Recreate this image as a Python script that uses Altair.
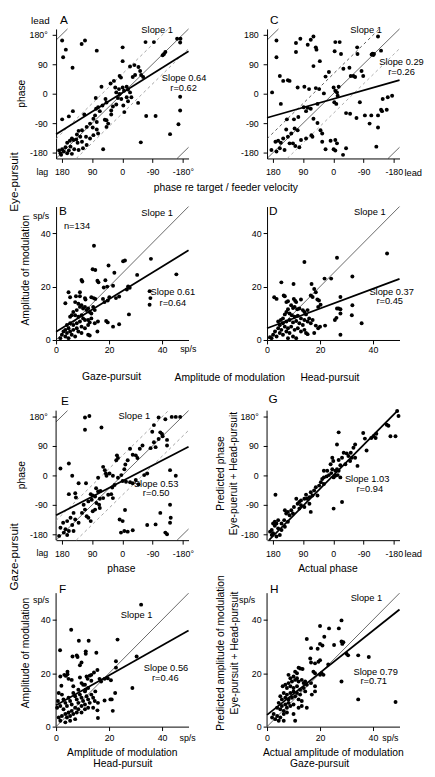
import altair as alt
import pandas as pd

FONT = "Liberation Sans"

# ---------------------------------------------------------------------------
# Data (each point = one cell; positions estimated by eye)
# Phase panels: x = phase re target / feeder velocity (deg, axis runs 180 -> -180)
# ---------------------------------------------------------------------------
A_pts = [(179,162),(168,134),(176,111),(121,151),(111,162),(76,131),(-1,141),(-69,157),(-94,157),(-163,167),
         (-173,167),(-172,156),(-120,117),(-124,121),(-128,127),(-1,99),(148,79),(-23,83),(-36,87),(-48,81),
         (-53,69),(-56,57),(-38,57),(-31,51),(-62,51),(8,54),(4,49),(25,39),(35,31),(21,19),
         (10,14),(-1,19),(-13,21),(-17,13),(-5,9),(-23,4),(62,21),(79,-13),(50,-16),(47,-27),
         (13,-13),(3,-16),(-13,-11),(-27,-11),(-17,-23),(-47,-28),(-3,-36),(-6,-56),(18,-33),(28,-39),
         (33,-51),(59,-36),(72,-41),(78,-46),(67,-53),(81,-66),(86,-76),(113,-63),(147,-53),(159,-69),
         (179,-78),(-172,-9),(-172,-51),(-167,-93),(-142,-123),(-71,-68),(-99,-68),(-55,-148),(57,-169),(47,-81),
         (52,-79),(42,-91),(76,-86),(96,-91),(88,-103),(76,-109),(72,-121),(106,-101),(120,-111),(130,-113),
         (135,-124),(125,-131),(108,-131),(150,-136),(145,-141),(137,-139),(156,-143),(164,-149),(133,-149),(120,-146),
         (106,-156),(154,-161),(169,-163),(179,-169),(143,-169),(159,-173),(174,-176),(184,-181),(188,-173),(164,-181),
         (150,-183),(130,-171),(117,-166),(182,-186),(96,-136),(47,-101),(86,-126),(33,-63),(8,-1),(18,4)]

C_pts = [(169,162),(169,111),(111,154),(98,167),(111,127),(76,149),(67,164),(59,174),(52,141),(50,134),
         (59,84),(40,99),(-6,157),(-19,157),(-4,129),(-23,121),(13,66),(23,52),(-71,141),(-72,121),
         (-133,174),(-114,119),(-117,122),(-119,118),(-121,121),(-142,131),(-84,69),(-89,54),(-52,54),(-48,79),
         (-30,76),(-60,54),(-65,51),(159,54),(149,39),(135,41),(130,39),(182,4),(106,19),(86,21),
         (72,14),(52,17),(42,14),(28,1),(47,-31),(-1,19),(-6,9),(-11,4),(-13,-6),(-16,21),
         (-3,-26),(-9,-31),(156,-31),(88,-41),(76,-43),(81,-53),(67,-46),(138,-78),(117,-78),(104,-71),
         (59,-76),(47,-89),(-50,-61),(-79,-26),(-38,-59),(-175,-6),(-162,-11),(-147,-16),(-142,-49),(-145,-53),
         (-159,-49),(-113,-66),(-94,-66),(-133,-66),(-108,-91),(-133,-103),(-69,-74),(140,-109),(115,-106),(106,-111),
         (125,-121),(135,-131),(149,-136),(164,-143),(156,-149),(172,-146),(184,-171),(169,-176),(159,-166),(145,-171),
         (130,-151),(120,-151),(113,-159),(101,-163),(96,-141),(81,-136),(38,-111),(33,-121),(65,-126),(62,-131),
         (8,-143),(-6,-141),(-11,-151),(33,-146),(23,-169),(-1,-169),(-6,-173),(-29,-186),(-38,-166),(-128,-161)]

E_pts = [(111,176),(98,181),(111,139),(62,146),(-108,176),(-128,171),(-147,178),(-159,178),(-172,178),(-94,153),
         (-89,133),(-113,131),(-118,126),(-120,119),(-108,111),(-133,108),(-133,91),(-94,101),(-99,86),(-84,83),
         (-60,91),(-52,81),(-23,81),(-31,63),(-40,61),(-45,53),(-16,46),(-9,33),(-6,19),(16,61),
         (13,53),(18,46),(57,26),(52,16),(49,6),(47,-1),(38,6),(28,-1),(72,-7),(13,-7),
         (3,1),(-1,-17),(-11,-19),(-23,-21),(-31,-24),(23,-29),(30,-37),(-40,-14),(-48,-27),(-65,1),
         (-74,6),(-142,16),(-159,-1),(184,21),(159,36),(149,-1),(130,-24),(108,-24),(159,-57),(140,-54),
         (138,-67),(78,-39),(72,-49),(65,-47),(94,-57),(88,-61),(81,-64),(91,-74),(101,-79),(67,-71),
         (57,-69),(42,-59),(33,-57),(28,-69),(77,-84),(69,-89),(67,-99),(81,-104),(88,-109),(115,-89),
         (111,-104),(120,-114),(106,-124),(101,-129),(94,-139),(145,-114),(154,-129),(164,-139),(140,-134),(130,-144),
         (176,-144),(184,-159),(169,-164),(159,-169),(149,-151),(174,-174),(164,-181),(188,-184),(145,-169),(8,-134),
         (-1,-139),(-6,-169),(4,-174),(-16,-171),(-31,-167),(-74,-151),(-99,-149),(-113,-114),(-142,-89),(-142,-144),
         (-133,-179),(-128,-174),(-144,-129),(-8,-105)]

G_pts = [(-190,196),(-194,181),(-159,154),(-164,151),(-170,119),(-185,119),(-128,127),(-120,119),(-113,114),(-126,114),
         (-89,129),(-94,112),(-99,76),(-65,94),(-60,84),(-52,69),(-40,67),(-45,59),(-55,54),(-65,54),
         (-72,29),(-31,69),(-26,54),(-16,47),(-21,31),(-11,19),(-6,14),(-16,14),(-21,-6),(-16,131),
         (-11,94),(3,54),(0,44),(8,34),(3,19),(6,7),(13,1),(20,-3),(28,-6),(33,-11),
         (37,-21),(18,14),(28,14),(-6,-1),(-13,1),(-1,-6),(-1,-101),(-26,-81),(57,-46),(52,-36),
         (62,-61),(67,-51),(71,-66),(81,-59),(78,-71),(71,-86),(67,-111),(86,-96),(96,-91),(47,-61),
         (110,-71),(117,-96),(125,-106),(106,-86),(101,-101),(144,-106),(140,-116),(130,-121),(146,-136),(154,-146),
         (135,-111),(120,-116),(172,-59),(164,-136),(174,-141),(179,-146),(169,-146),(183,-166),(179,-176),(169,-186),
         (159,-181),(188,-171),(174,-153),(164,-161),(154,-166),(144,-156),(183,-181),(135,-141),(-50,44),(-36,34),
         (28,-26),(42,-31),(86,-71),(96,-76),(101,-81)]

# Amplitude panels (sp/s)
B_pts = [(14.3,35.3),(13.8,26.5),(14.8,26.2),(19.8,27.9),(22.0,25.2),(25.3,29.5),(26.0,29.8),(35.8,30.4),(45.4,24.6),(30.6,24.4),
         (15.6,22.2),(16.0,21.6),(9.6,22.5),(9.9,21.9),(18.6,22.4),(19.3,20.0),(18.0,19.7),(21.5,20.3),(27.2,20.1),(27.8,19.6),
         (26.7,18.9),(35.3,18.3),(35.6,15.7),(35.3,13.2),(3.5,13.8),(4.7,17.9),(5.3,16.0),(7.5,16.4),(9.0,16.4),(13.3,16.0),
         (14.2,15.7),(14.8,15.4),(17.7,15.4),(18.3,14.2),(19.5,14.8),(20.1,16.0),(22.6,15.7),(23.8,16.3),(10.9,15.7),(11.1,15.2),
         (27.5,9.6),(23.8,5.9),(21.5,5.0),(18.9,7.1),(19.5,6.6),(15.8,6.9),(14.6,6.3),(12.1,7.5),(12.7,6.6),(15.6,3.2),
         (12.1,2.0),(12.7,1.7),(7.2,14.2),(8.4,13.6),(9.0,12.4),(9.6,13.0),(10.2,11.8),(10.9,12.4),(11.5,11.2),(12.1,11.8),
         (12.7,10.5),(13.3,9.9),(14.0,12.4),(14.6,11.2),(7.8,11.2),(6.5,10.5),(5.9,9.3),(5.3,8.7),(7.2,9.3),(8.4,8.7),
         (9.6,9.3),(10.2,8.1),(10.9,7.5),(9.0,6.9),(7.8,6.3),(6.5,5.6),(5.3,6.3),(4.1,5.6),(4.7,4.4),(3.5,3.8),
         (2.8,3.2),(4.1,2.6),(5.3,3.2),(6.5,3.8),(7.8,4.4),(8.4,3.2),(9.6,5.0),(2.2,2.0),(3.5,1.3),(1.6,0.7),
         (4.7,0.7),(5.9,2.0),(7.2,1.3),(9.6,2.6),(10.9,4.4),(12.1,5.6),(13.3,8.1),(9.0,17.9)]

D_pts = [(45.3,32.4),(26.4,30.8),(14.1,29.2),(32.2,23.8),(21.7,23.0),(24.2,23.0),(5.4,21.6),(10.0,21.0),(16.8,21.0),(17.8,19.1),
         (18.4,17.9),(6.3,16.7),(6.7,16.4),(10.1,15.4),(10.6,14.7),(11.0,14.2),(12.8,15.2),(7.3,14.2),(7.9,14.5),(16.5,16.7),
         (17.2,16.1),(19.0,15.2),(19.6,14.8),(20.2,13.2),(19.3,12.4),(27.7,16.1),(27.0,11.8),(27.7,11.5),(26.4,11.8),(32.2,13.0),
         (32.0,9.3),(35.7,6.3),(27.7,9.9),(26.2,8.3),(25.6,7.5),(27.7,2.0),(20.0,5.0),(19.3,4.4),(18.4,5.4),(21.9,5.4),
         (17.8,2.6),(14.7,2.6),(15.3,2.2),(2.7,16.0),(3.6,15.4),(9.1,13.0),(9.8,12.0),(10.4,12.4),(11.4,11.5),(12.2,11.8),
         (13.5,11.2),(14.1,10.5),(14.7,9.6),(15.3,11.2),(7.9,11.5),(7.3,10.5),(6.7,9.6),(8.5,9.9),(9.4,9.3),(10.4,8.7),
         (11.6,9.1),(12.8,8.1),(14.1,7.5),(15.3,6.9),(15.9,8.1),(6.0,8.1),(5.2,7.5),(4.2,6.9),(4.8,5.6),(6.0,6.3),
         (7.3,6.9),(8.5,7.5),(9.8,6.6),(11.0,7.1),(12.2,6.3),(13.5,5.6),(9.1,5.0),(7.9,4.4),(6.7,5.0),(5.4,3.8),
         (4.2,4.4),(3.0,3.2),(2.3,2.0),(1.7,0.7),(3.6,1.3),(4.8,2.6),(6.0,2.0),(7.3,3.2),(8.5,2.6),(10.4,3.8),
         (11.6,4.4),(12.8,3.2),(9.8,1.3),(11.0,0.7),(7.9,0.7),(1.1,1.0),(14.1,3.8),(16.5,6.3),(17.2,7.5)]

F_pts = [(32.1,45.7),(5.7,36.3),(1.5,28.6),(8.6,32.2),(12.3,32.2),(23.2,32.6),(30.4,26.3),(6.2,26.3),(7.8,26.7),(8.1,26.1),
         (11.2,28.2),(11.2,27.3),(9.6,24.0),(9.0,23.0),(15.2,27.7),(22.6,24.5),(22.6,22.1),(15.6,21.2),(14.3,20.3),(3.1,19.4),
         (3.7,19.0),(4.7,17.9),(1.6,18.8),(4.3,20.6),(4.3,19.6),(2.0,15.3),(5.9,17.5),(9.0,18.4),(9.6,16.3),(12.7,19.1),
         (13.3,19.4),(11.5,18.8),(11.9,17.9),(16.4,17.9),(17.0,16.9),(18.3,17.9),(19.5,18.1),(20.7,17.4),(10.9,15.7),(11.1,13.8),
         (13.3,17.2),(14.8,13.2),(22.3,12.6),(18.3,9.8),(20.5,10.2),(15.8,8.9),(15.6,6.1),(15.8,3.2),(14.0,7.1),(21.4,5.9),
         (21.0,10.2),(28.8,14.5),(2.2,12.0),(2.8,10.2),(3.5,8.9),(4.1,7.7),(4.7,10.8),(5.3,9.6),(5.9,8.3),(6.5,12.6),
         (7.2,11.4),(7.8,10.2),(8.4,8.9),(9.0,12.0),(9.6,10.8),(10.2,9.6),(10.9,8.3),(11.5,11.4),(12.1,10.2),(12.7,8.9),
         (13.3,12.0),(14.0,10.8),(14.6,9.6),(7.2,7.1),(8.4,6.5),(9.6,7.7),(5.9,5.9),(4.7,5.3),(3.5,4.7),(2.2,4.0),
         (1.0,3.4),(0.4,7.1),(1.6,7.7),(2.8,6.5),(4.1,3.4),(5.3,4.0),(6.5,4.7),(7.8,5.3),(9.6,5.3),(10.9,6.5),
         (12.1,7.1),(1.6,2.2),(3.5,1.6),(5.3,2.2),(7.2,2.8),(0.7,9.6),(1.0,12.6),(10.9,13.2),(12.1,14.5),(8.4,13.8),
         (6.5,15.1),(10.2,15.7)]

H_pts = [(28.1,39.8),(20.0,37.7),(27.1,36.8),(23.4,36.8),(15.0,32.8),(21.6,33.7),(28.1,31.9),(28.8,31.6),(28.4,31.0),(25.3,30.6),
         (20.0,31.0),(20.9,30.4),(30.0,27.3),(30.6,26.7),(34.4,26.7),(38.4,26.1),(19.1,29.2),(20.0,24.9),(19.4,24.3),(16.6,29.4),
         (16.3,25.5),(16.6,24.0),(23.1,23.3),(18.1,23.7),(20.6,20.0),(21.3,19.4),(20.0,19.4),(28.1,16.9),(34.4,10.2),(48.5,9.2),
         (11.9,22.1),(12.5,21.8),(13.4,21.6),(10.6,20.6),(11.3,20.0),(17.5,20.6),(18.1,20.0),(15.0,15.7),(16.6,16.3),(18.1,15.1),
         (18.1,13.2),(16.9,12.0),(15.0,7.1),(10.6,2.2),(4.4,2.2),(3.1,2.8),(8.1,19.4),(8.8,18.1),(10.0,18.8),(10.6,17.5),
         (11.3,18.1),(11.9,16.9),(13.1,17.5),(13.8,16.3),(14.4,16.9),(9.4,16.9),(8.1,16.3),(6.9,15.7),(5.9,15.1),(7.5,14.5),
         (8.8,15.1),(10.0,14.5),(11.3,15.1),(12.5,13.8),(13.8,14.5),(14.4,13.2),(12.5,12.0),(11.3,12.6),(10.0,13.2),(8.8,12.6),
         (7.5,12.0),(6.3,12.6),(5.0,11.4),(5.6,10.2),(6.9,10.8),(8.1,10.2),(9.4,10.8),(10.6,11.4),(11.9,10.2),(13.1,9.6),
         (8.1,8.9),(6.9,8.3),(5.6,7.7),(4.4,8.9),(3.8,7.1),(5.0,6.5),(6.3,5.9),(7.5,7.1),(8.8,7.7),(10.0,8.3),
         (2.5,4.7),(3.8,4.0),(5.0,3.4),(1.9,3.4),(6.3,4.7),(7.5,5.3),(6.3,2.2),(10.0,4.7),(11.9,7.1),(13.1,7.7)]

# Regression lines as drawn: (slope, intercept). Phase x axes run 180 -> -180,
# so a drawn phase line is y = intercept - slope * x.
FIT = {"A": (0.64, 3.0), "C": (0.29, -16.0), "E": (0.53, -17.0), "G": (1.03, 0.0),
       "B": (0.61, 3.1), "D": (0.37, 4.4), "F": (0.56, 8.0), "H": (0.79, 4.4)}

PHASE_TICKS = [180, 90, 0, -90, -180]
AMP_TICKS = [0, 20, 40]
PHASE_LIM = 197      # axis extent, deg
AMP_LIM = 50         # axis extent, sp/s
BAND = 60            # dashed band either side of the slope-1 line, deg
WRAPS = [0, 360, -360]

# layout (px)
PW, PH, AH = 135, 132, 136
EXT3, EXT4 = 23, 5   # blank space added above rows 3 and 4 (grid rows share one spacing)
TICK_FS = 9

ONE = pd.DataFrame({"k": [0]})


def clip_seg(m, b, lo_x, hi_x, lo_y, hi_y):
    cand = []
    for xv in (lo_x, hi_x):
        yv = b + m * xv
        if lo_y - 1e-9 <= yv <= hi_y + 1e-9:
            cand.append((xv, yv))
    if m != 0:
        for yv in (lo_y, hi_y):
            xv = (yv - b) / m
            if lo_x - 1e-9 <= xv <= hi_x + 1e-9:
                cand.append((xv, yv))
    cand = sorted(set((round(p, 6), round(q, 6)) for p, q in cand))
    if len(cand) < 2:
        return None
    return (cand[0], cand[-1])


def axis(values, expr, pad, domain=True):
    return alt.Axis(values=values, labelExpr=expr, tickSize=4, labelPadding=pad,
                    labelFont=FONT, labelFontSize=TICK_FS, labelColor="black",
                    tickColor="black", tickWidth=1, domain=domain,
                    domainColor="black", domainWidth=1, grid=False, title=None,
                    labelFlush=False, labelOverlap=False)


def line_layer(segs, xs, ys, xa, ya, color, width, dash=None):
    rows = []
    for i, sg in enumerate(segs):
        if sg is None:
            continue
        for (px, py) in sg:
            rows.append({"x": px, "y": py, "s": i})
    kw = dict(color=color, strokeWidth=width)
    if dash is not None:
        kw["strokeDash"] = dash
    return alt.Chart(pd.DataFrame(rows)).mark_line(**kw).encode(
        x=alt.X("x:Q", scale=xs, axis=xa),
        y=alt.Y("y:Q", scale=ys, axis=ya),
        detail="s:N")


def yaxis_rule(ys, ya, lo, hi):
    df = pd.DataFrame({"y": [lo], "y1": [hi]})
    return alt.Chart(df).mark_rule(color="black", strokeWidth=1).encode(
        x=alt.value(0), y=alt.Y("y:Q", scale=ys, axis=ya), y2="y1:Q")


def label(s, x, y, size=9.5, align="center", baseline="alphabetic", angle=0):
    kw = dict(text=s, font=FONT, fontSize=size, align=align, baseline=baseline, color="black")
    if angle:
        kw["angle"] = angle
    return alt.Chart(ONE).mark_text(**kw).encode(x=alt.value(x), y=alt.value(y))


PLAIN = "'' + datum.value"
DEG_X = "datum.value == -180 ? '-180°' : '' + datum.value"
DEG_Y = "datum.value == 180 ? '180°' : '' + datum.value"


def points_layer(pts, xs, ys, xa, ya):
    df = pd.DataFrame(pts, columns=["x", "y"])
    return alt.Chart(df).mark_circle(size=16, color="black", opacity=1).encode(
        x=alt.X("x:Q", scale=xs, axis=xa), y=alt.Y("y:Q", scale=ys, axis=ya))


def phase_panel(pts, key, xexpr, yexpr, texts, ext=0, slope1=True,
                dash_colors=("#8c8c8c", "#8c8c8c")):
    lo, hi = -PHASE_LIM, PHASE_LIM
    ext_deg = ext * (2 * PHASE_LIM) / PH
    xs = alt.Scale(domain=[lo, hi], reverse=True, nice=False, zero=False)
    ys = alt.Scale(domain=[lo, hi + ext_deg], nice=False, zero=False)
    xa = axis(PHASE_TICKS, xexpr, 5.5)
    ya = axis(PHASE_TICKS, yexpr, 5, domain=not ext)
    layers = []
    if ext:
        layers.append(yaxis_rule(ys, ya, lo, hi))
    if slope1:
        layers.append(line_layer([clip_seg(-1, BAND, lo, hi, lo, hi)], xs, ys, xa, ya, dash_colors[0], 0.8, [3, 3]))
        layers.append(line_layer([clip_seg(-1, -BAND, lo, hi, lo, hi)], xs, ys, xa, ya, dash_colors[1], 0.8, [3, 3]))
        layers.append(line_layer([clip_seg(-1, w, lo, hi, lo, hi) for w in WRAPS], xs, ys, xa, ya, "black", 0.6))
    m, b = FIT[key]
    layers.append(line_layer([clip_seg(-m, b, lo, hi, lo, hi)], xs, ys, xa, ya, "black", 1.8))
    layers.append(points_layer(pts, xs, ys, xa, ya))
    layers += texts
    return alt.layer(*layers).properties(width=PW, height=PH + ext)


def amp_panel(pts, key, texts, ext=0, xpad=1.7):
    lo, hi = 0, AMP_LIM
    ext_u = ext * AMP_LIM / AH
    xs = alt.Scale(domain=[lo, hi], nice=False, zero=False)
    ys = alt.Scale(domain=[lo, hi + ext_u], nice=False, zero=False)
    xa = axis(AMP_TICKS, PLAIN, xpad)
    ya = axis(AMP_TICKS, PLAIN, 2, domain=not ext)
    layers = []
    if ext:
        layers.append(yaxis_rule(ys, ya, lo, hi))
    layers.append(line_layer([clip_seg(1, 0, lo, hi, lo, hi)], xs, ys, xa, ya, "black", 0.6))
    m, b = FIT[key]
    layers.append(line_layer([clip_seg(m, b, lo, hi, lo, hi)], xs, ys, xa, ya, "black", 1.8))
    layers.append(points_layer(pts, xs, ys, xa, ya))
    layers += texts
    return alt.layer(*layers).properties(width=PW, height=AH + ext)


# ------------------------------- panels -----------------------------------
txA = [label("lead", -16, -5, 10),
       label("A", 4, -5, 12, align="left"),
       label("phase", -35, 66, 10.5, baseline="middle", angle=270),
       label("Slope 1", 103, 4),
       label("Slope 0.64", 130.5, 53),
       label("r=0.62", 130, 63),
       label("lag", -14, 141.5, TICK_FS, baseline="top"),
       label("phase re target / feeder velocity", 173, 165, 10.5),
       label("Eye-pursuit", -43, 156, 12, baseline="middle", angle=270)]
pA = phase_panel(A_pts, "A", DEG_X, DEG_Y, txA)

txC = [label("C", 3, -5, 12, align="left"),
       label("Slope 1", 101, 4),
       label("Slope 0.29", 137, 37),
       label("r=0.26", 137, 47),
       label("lead", 140, 141.5, 9.5, align="left", baseline="top")]
pC = phase_panel(C_pts, "C", PLAIN, PLAIN, txC, dash_colors=("#333333", "#999999"))

txB = [label("B", 3, 9, 12, align="left"),
       label("sp/s", -7, 13, TICK_FS, align="right"),
       label("n=134", 8, 23, 9.5, align="left"),
       label("Slope 1", 103, 10),
       label("Slope 0.61", 119, 90.5),
       label("r=0.64", 119, 101),
       label("Amplitude of modulation", -31, 65, 10.5, baseline="middle", angle=270),
       label("sp/s", 134.7, 141.7, TICK_FS, baseline="top"),
       label("Gaze-pursuit", 56.5, 177, 10.5),
       label("Amplitude of modulation", 177, 178, 10.5)]
pB = amp_panel(B_pts, "B", txB)

txD = [label("D", 2, 9, 12, align="left"),
       label("Slope 1", 104.7, 8.7),
       label("Slope 0.37", 127, 89.7),
       label("r=0.45", 125, 99.7),
       label("Head-pursuit", 64, 178, 10.5)]
pD = amp_panel(D_pts, "D", txD)

txE = [label("E", 5, 17, 12, align="left"),
       label("phase", -35, 88.7, 10.5, baseline="middle", angle=270),
       label("Slope 1", 79.7, 31.3),
       label("Slope 0.53", 102, 101.3),
       label("r=0.50", 102, 110.3),
       label("lag", -14, 164.5, TICK_FS, baseline="top"),
       label("phase", 66.5, 187, 10.5),
       label("Gaze-pursuit", -43, 172, 12, baseline="middle", angle=270)]
pE = phase_panel(E_pts, "E", DEG_X, DEG_Y, txE, ext=EXT3)

txG = [label("G", 1.5, 15.3, 12, align="left"),
       label("Predicted phase", -47, 87, 10.5, baseline="middle", angle=270),
       label("Eye-pueruit + Head-pursuit", -34, 87, 10.5, baseline="middle", angle=270),
       label("Slope 1.03", 102, 96),
       label("r=0.94", 104.7, 106),
       label("lead", 140, 164.5, 9.5, align="left", baseline="top"),
       label("Actual phase", 62, 187, 10.5)]
pG = phase_panel(G_pts, "G", PLAIN, DEG_Y, txG, ext=EXT3, slope1=False)

txF = [label("F", 3, 4.7, 12, align="left"),
       label("sp/s", -7, 15.3, TICK_FS, align="right"),
       label("Slope 1", 82, 30.3),
       label("Slope 0.56", 112, 84.7),
       label("r=0.46", 111.3, 94.7),
       label("Amplitude of modulation", -31, 66, 10.5, baseline="middle", angle=270),
       label("sp/s", 134, 148.4, TICK_FS, baseline="top"),
       label("Amplitude of modulation", 67.5, 171.3, 10.5),
       label("Head-pursuit", 68, 182, 10.5)]
pF = amp_panel(F_pts, "F", txF, ext=EXT4, xpad=3.4)

txH = [label("H", 3, 4.7, 12, align="left"),
       label("sp/s", -12, 15.3, TICK_FS, align="right"),
       label("Predicted amplitude of modulation", -47, 66, 10.5, baseline="middle", angle=270),
       label("Eye-pursuit + Head-pursuit", -32.7, 66, 10.5, baseline="middle", angle=270),
       label("Slope 1", 101.3, 13),
       label("Slope 0.79", 110.7, 88),
       label("r=0.71", 108.7, 98),
       label("sp/s", 125.7, 148.4, TICK_FS, baseline="top"),
       label("Actual amplitude of modulation", 67.5, 171.3, 10.5),
       label("Gaze-pursuit", 53.5, 182, 10.5)]
pH = amp_panel(H_pts, "H", txH, ext=EXT4, xpad=3.4)

chart = alt.concat(
    pA, pC, pB, pD, pE, pG, pF, pH,
    columns=2, spacing={"row": 49, "column": 80}, bounds="flush", align="each",
).properties(
    autosize=alt.AutoSizeParams(type="none"),
    padding={"left": 49, "top": 14, "right": 378, "bottom": 755},
).configure_view(stroke="transparent")

chart.save("out.html", embed_options={"renderer": "svg", "actions": False})
